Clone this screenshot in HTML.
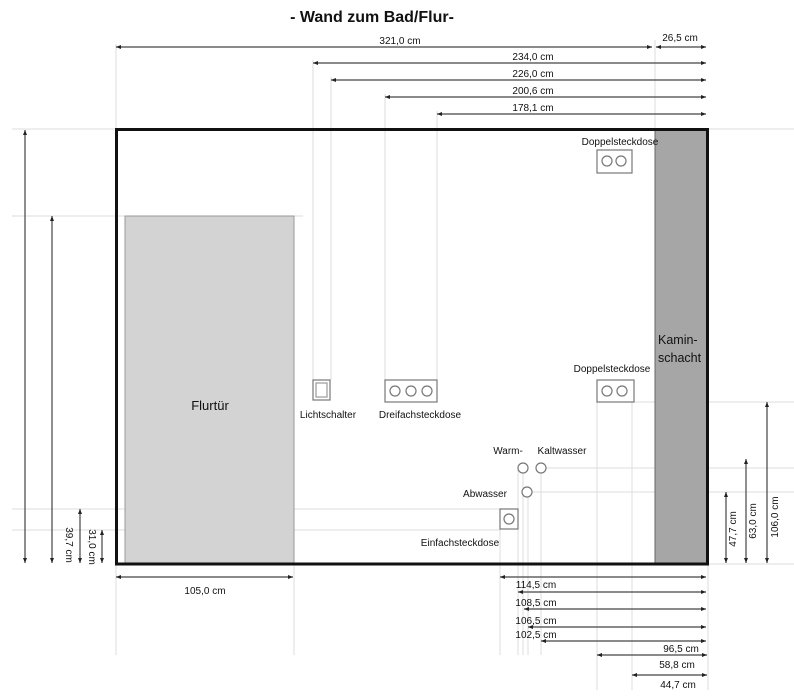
<!DOCTYPE html>
<html><head><meta charset="utf-8"><style>
html,body{margin:0;padding:0;background:#fff}
svg{display:block}
text{font-family:"Liberation Sans",sans-serif;fill:#111}
</style></head><body>
<svg width="794" height="697" viewBox="0 0 794 697" xmlns="http://www.w3.org/2000/svg">
<defs>
<marker id="a" markerWidth="6" markerHeight="6" refX="5" refY="3" orient="auto-start-reverse" markerUnits="userSpaceOnUse"><path d="M0,1 L5,3 L0,5 z" fill="#222"/></marker>
</defs>
<text x="372" y="22" font-size="16" font-weight="bold" text-anchor="middle">- Wand zum Bad/Flur-</text>

<g stroke="#ddd" stroke-width="1" fill="none">
<line x1="116" y1="44" x2="116" y2="655"/>
<line x1="313" y1="60" x2="313" y2="380"/>
<line x1="331" y1="77" x2="331" y2="380"/>
<line x1="385" y1="94" x2="385" y2="380"/>
<line x1="437" y1="111" x2="437" y2="380"/>
<line x1="655" y1="40" x2="655" y2="130"/>
<line x1="12" y1="129" x2="116" y2="129"/>
<line x1="708" y1="129" x2="794" y2="129"/>
<line x1="12" y1="216" x2="303" y2="216"/>
<line x1="12" y1="509" x2="500" y2="509"/>
<line x1="12" y1="530" x2="500" y2="530"/>
<line x1="294" y1="564" x2="294" y2="655"/>
<line x1="500" y1="529" x2="500" y2="655"/>
<line x1="518" y1="470" x2="518" y2="655"/>
<line x1="523" y1="473" x2="523" y2="655"/>
<line x1="528" y1="497" x2="528" y2="655"/>
<line x1="541" y1="473" x2="541" y2="655"/>
<line x1="597" y1="402" x2="597" y2="690"/>
<line x1="632" y1="402" x2="632" y2="690"/>
<line x1="634" y1="402" x2="794" y2="402"/>
<line x1="546" y1="468" x2="794" y2="468"/>
<line x1="532" y1="492" x2="794" y2="492"/>
<line x1="708" y1="564" x2="794" y2="564"/>
<line x1="708" y1="564" x2="708" y2="690"/>
</g>

<rect x="125" y="216" width="169" height="348" fill="#d3d3d3" stroke="#999" stroke-width="1"/>
<text x="210" y="410" font-size="13" text-anchor="middle">Flurtür</text>
<rect x="655" y="130" width="52" height="434" fill="#a6a6a6" stroke="#666" stroke-width="1"/>
<text x="658" y="344" font-size="12.5">Kamin-</text>
<text x="658" y="362" font-size="12.5">schacht</text>
<rect x="116.5" y="129.5" width="591" height="434.5" fill="none" stroke="#111" stroke-width="3"/>

<g stroke="#777" stroke-width="1.2" fill="#fff">
<rect x="313" y="380" width="17" height="20"/>
<rect x="316" y="383" width="11" height="14" fill="none" stroke="#999"/>
<rect x="385" y="380" width="52" height="22"/>
<circle cx="395" cy="391" r="5"/><circle cx="411" cy="391" r="5"/><circle cx="427" cy="391" r="5"/>
<rect x="597" y="380" width="37" height="22"/>
<circle cx="607" cy="391" r="5"/><circle cx="622" cy="391" r="5"/>
<rect x="597" y="150" width="35" height="23"/>
<circle cx="607" cy="161" r="5"/><circle cx="621" cy="161" r="5"/>
<circle cx="523" cy="468" r="5"/><circle cx="541" cy="468" r="5"/>
<circle cx="527" cy="492" r="5"/>
<rect x="500" y="509" width="18" height="20"/>
<circle cx="509" cy="519" r="5"/>
</g>
<g font-size="10" text-anchor="middle">
<text x="328" y="418">Lichtschalter</text>
<text x="420" y="418">Dreifachsteckdose</text>
<text x="612" y="372">Doppelsteckdose</text>
<text x="620" y="145">Doppelsteckdose</text>
<text x="508" y="454">Warm-</text>
<text x="562" y="454">Kaltwasser</text>
<text x="485" y="497">Abwasser</text>
<text x="460" y="546">Einfachsteckdose</text>
</g>

<g stroke="#444" stroke-width="1.2" marker-start="url(#a)" marker-end="url(#a)">
<line x1="116" y1="47" x2="652" y2="47"/>
<line x1="656" y1="47" x2="706" y2="47"/>
<line x1="313" y1="63" x2="706" y2="63"/>
<line x1="331" y1="80" x2="706" y2="80"/>
<line x1="385" y1="97" x2="706" y2="97"/>
<line x1="437" y1="114" x2="706" y2="114"/>
<line x1="25" y1="130" x2="25" y2="563"/>
<line x1="52" y1="216" x2="52" y2="563"/>
<line x1="80" y1="509" x2="80" y2="563"/>
<line x1="102" y1="530" x2="102" y2="563"/>
<line x1="726" y1="492" x2="726" y2="563"/>
<line x1="746" y1="459" x2="746" y2="563"/>
<line x1="767" y1="402" x2="767" y2="563"/>
<line x1="116" y1="577" x2="293" y2="577"/>
<line x1="500" y1="577" x2="706" y2="577"/>
<line x1="518" y1="592" x2="706" y2="592"/>
<line x1="524" y1="609" x2="706" y2="609"/>
<line x1="528" y1="627" x2="706" y2="627"/>
<line x1="541" y1="641" x2="706" y2="641"/>
<line x1="597" y1="655" x2="707" y2="655"/>
<line x1="632" y1="675" x2="707" y2="675"/>
</g>
<g font-size="10" text-anchor="middle">
<text x="400" y="44">321,0 cm</text>
<text x="680" y="41">26,5 cm</text>
<text x="533" y="60">234,0 cm</text>
<text x="533" y="77">226,0 cm</text>
<text x="533" y="94">200,6 cm</text>
<text x="533" y="111">178,1 cm</text>
<text x="205" y="594">105,0 cm</text>
<text x="536" y="588">114,5 cm</text>
<text x="536" y="606">108,5 cm</text>
<text x="536" y="624">106,5 cm</text>
<text x="536" y="638">102,5 cm</text>
<text x="681" y="652">96,5 cm</text>
<text x="677" y="668">58,8 cm</text>
<text x="678" y="688">44,7 cm</text>
<text transform="translate(66,545) rotate(90)">39,7 cm</text>
<text transform="translate(89,547) rotate(90)">31,0 cm</text>
<text transform="translate(736,529) rotate(-90)">47,7 cm</text>
<text transform="translate(756,521) rotate(-90)">63,0 cm</text>
<text transform="translate(778,517) rotate(-90)">106,0 cm</text>
</g>
</svg>
</body></html>
